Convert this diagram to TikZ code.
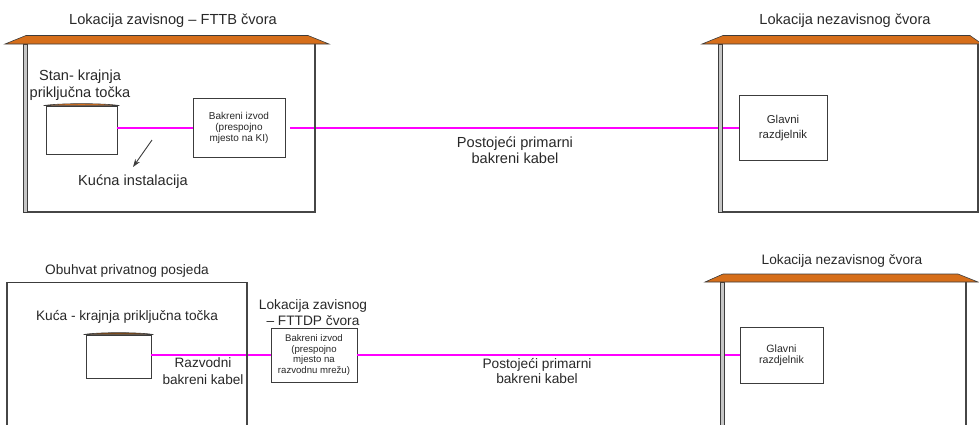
\documentclass[tikz,border=0pt]{standalone}
\usepackage{fontspec}
\setmainfont{Liberation Sans}
\usetikzlibrary{arrows.meta}
\definecolor{roofc}{RGB}{214,110,26}
\definecolor{roofd}{RGB}{125,72,22}
\definecolor{cablec}{RGB}{255,0,255}
\definecolor{txt}{RGB}{40,40,40}
\definecolor{edge}{RGB}{60,60,60}
\begin{document}
\begin{tikzpicture}[x=1pt,y=-1pt,
  lbl/.style={text=txt,font=\fontsize{14.6}{16.5}\selectfont,align=center,inner sep=0},
  lblb/.style={text=txt,font=\fontsize{13.7}{15.5}\selectfont,align=center,inner sep=0},
  box/.style={draw=edge,line width=0.9,fill=white,inner sep=0,align=center,text=txt},
  small/.style={font=\fontsize{10}{11}\selectfont},
  smallb/.style={font=\fontsize{9.6}{10.4}\selectfont},
  cable/.style={draw=cablec,line width=2.8},
  roofs/.style={fill=roofc,draw=edge,line width=0.6},
  wall/.style={fill=gray!45,draw=edge,line width=0.5},
  thinwall/.style={draw=gray!55!black,line width=1.3},
  plain/.style={draw=edge,line width=0.9}]
\useasboundingbox (0,0) rectangle (979,424);
\clip (0,0) rectangle (979,424);

% ---------------- top diagram ----------------
\node[lbl] (t1) at (173,21) {Lokacija zavisnog -- FTTB čvora};
\node[lbl] (t2) at (845,21) {Lokacija nezavisnog čvora};

\node[box,minimum width=71,minimum height=48] (stan) at (81.5,130) {};
\node[lbl] (stanl) at (80,85) {Stan- krajnja\\priključna točka};
\node[box,small,minimum width=92,minimum height=59] (izvod1) at (239,128) {Bakreni izvod\\(prespojno\\mjesto na KI)};
\node[box,font=\fontsize{11.4}{15.5}\selectfont,minimum width=88,minimum height=65] (glavni1) at (783,128) {Glavni\\razdjelnik};
\node[lbl] (kabel1) at (515,150) {Postojeći primarni\\bakreni kabel};
\node[lbl] (kucna) at (133,182) {Kućna instalacija};
\coordinate (ar1) at (152,140);
\coordinate (ar2) at (133,167);

\draw[cable] (stan.east |- izvod1.west) -- (izvod1.west);
\draw[cable] ([xshift=5pt]izvod1.east) -- (glavni1.west);
\draw[edge,line width=0.9,-{Stealth[length=8pt,width=5.5pt]}] (ar1) -- (ar2);

% small house roof
\draw[roofs] ([xshift=-2pt]stan.north west) .. controls ([xshift=14pt,yshift=2.5pt]stan.north west) and ([xshift=-14pt,yshift=2.5pt]stan.north east) .. ([xshift=2pt]stan.north east) -- cycle;

% left house
\draw[thinwall] (315,44) -- (315,212) -- (25,212);
\draw[wall] (23.5,44) rectangle (27,212.5);
\draw[roofs] (5,44) -- (26,35.5) -- (308,35.5) -- (329,44) -- cycle;

% right house
\draw[thinwall] (978,44) -- (978,212) -- (720,212);
\draw[wall] (718.5,44) rectangle (722,212.5);
\draw[roofs] (702,44) -- (723,35.5) -- (970,35.5) -- (982,44) -- cycle;

% ---------------- bottom diagram ----------------
\node[lblb] (t3) at (127,271) {Obuhvat privatnog posjeda};
\node[lblb] (t4) at (842,261) {Lokacija nezavisnog čvora};
\node[lblb] (kuca) at (127,317) {Kuća - krajnja priključna točka};
\node[box,minimum width=65,minimum height=43] (kucab) at (118.5,356.5) {};
\node[box,smallb,minimum width=86,minimum height=54] (izvod2) at (314,355) {Bakreni izvod\\(prespojno\\mjesto na\\razvodnu mrežu)};
\node[lblb] (lokzav) at (313,312.5) {Lokacija zavisnog\\-- FTTDP čvora};
\node[text=txt,font=\fontsize{13.6}{16.5}\selectfont,align=center,inner sep=0] (razv) at (203,371) {Razvodni\\bakreni kabel};
\node[box,font=\fontsize{10.6}{11}\selectfont,minimum width=83,minimum height=56] (glavni2) at (781.5,355) {Glavni\\razdjelnik};
\node[lblb] (kabel2) at (537,371) {Postojeći primarni\\bakreni kabel};

\draw[cable] (kucab.east |- izvod2.west) -- (izvod2.west);
\draw[cable] (izvod2.east) -- (glavni2.west);

\draw[fill=roofd,draw=edge,line width=0.6] ([xshift=-2pt]kucab.north west) .. controls ([xshift=12pt,yshift=2.5pt]kucab.north west) and ([xshift=-12pt,yshift=2.5pt]kucab.north east) .. ([xshift=2pt]kucab.north east) -- cycle;

% private property outline
\draw[thinwall] (7,430) -- (7,282);
\draw[thinwall] (247,430) -- (247,282);
\draw[plain] (7,282) -- (247,282);

% right house bottom
\draw[thinwall] (966,282) -- (966,430);
\draw[wall] (720.5,282) rectangle (724,430);
\draw[roofs] (705,282) -- (723,274) -- (958,274) -- (978,282) -- cycle;
\end{tikzpicture}
\end{document}
